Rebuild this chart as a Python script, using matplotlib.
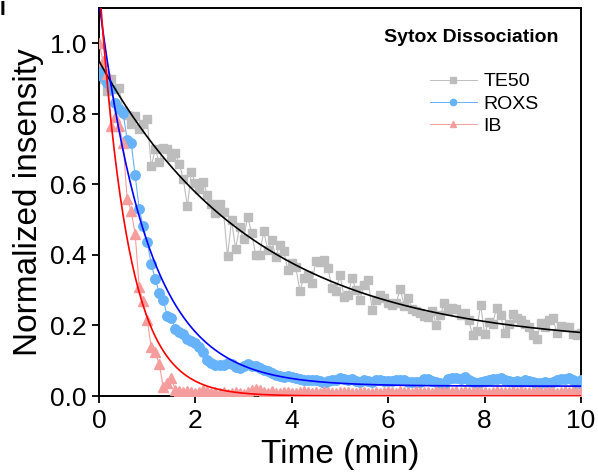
import numpy as np
import matplotlib
matplotlib.use("Agg")
import matplotlib.pyplot as plt
from matplotlib.lines import Line2D

plt.rcParams['font.family'] = ['Liberation Sans', 'DejaVu Sans']

# ---------------- data ----------------
n_points = 121
time_step = 1.0 / 12.0  # min (5 s sampling)

te50 = [0.93, 0.90, 0.865, 0.898, 0.87, 0.874, 0.808, 0.798, 0.772, 0.793,
        0.756, 0.77, 0.784, 0.651, 0.699, 0.663, 0.702, 0.699, 0.677, 0.689,
        0.658, 0.614, 0.538, 0.634, 0.604, 0.587, 0.606, 0.57, 0.545, 0.519,
        0.545, 0.522, 0.396, 0.498, 0.418, 0.478, 0.445, 0.508, 0.462, 0.40,
        0.40, 0.467, 0.415, 0.443, 0.394, 0.429, 0.41, 0.358, 0.377, 0.365,
        0.299, 0.334, 0.344, 0.32, 0.384, 0.38, 0.386, 0.363, 0.306, 0.299,
        0.344, 0.282, 0.287, 0.334, 0.301, 0.273, 0.315, 0.33, 0.244, 0.273,
        0.287, 0.278, 0.263, 0.259, 0.265, 0.303, 0.256, 0.278, 0.246, 0.24,
        0.235, 0.227, 0.223, 0.24, 0.202, 0.23, 0.263, 0.244, 0.249, 0.246,
        0.23, 0.235, 0.216, 0.173, 0.185, 0.259, 0.176, 0.211, 0.205, 0.249,
        0.23, 0.178, 0.205, 0.232, 0.22, 0.216, 0.205, 0.197, 0.173, 0.161,
        0.208, 0.197, 0.216, 0.22, 0.178, 0.199, 0.197, 0.195, 0.176, 0.173,
        0.178]

roxs = [0.926, 0.905, 0.888, 0.87, 0.832, 0.815, 0.803, 0.727, 0.718, 0.626,
        0.531, 0.481, 0.437, 0.374, 0.332, 0.293, 0.271, 0.227, 0.222, 0.19,
        0.181, 0.175, 0.162, 0.157, 0.15, 0.14, 0.126, 0.102, 0.093, 0.088,
        0.088, 0.089, 0.093, 0.09, 0.083, 0.079, 0.085, 0.09, 0.086, 0.085,
        0.079, 0.075, 0.07, 0.064, 0.06, 0.058, 0.055, 0.056, 0.055, 0.05,
        0.048, 0.045, 0.046, 0.045, 0.044, 0.042, 0.038, 0.042, 0.045, 0.045,
        0.05, 0.047, 0.044, 0.048, 0.042, 0.04, 0.045, 0.043, 0.041, 0.046,
        0.044, 0.042, 0.042, 0.043, 0.045, 0.046, 0.045, 0.041, 0.04, 0.039,
        0.041, 0.048, 0.047, 0.042, 0.04, 0.038, 0.022, 0.047, 0.05, 0.052,
        0.048, 0.053, 0.044, 0.04, 0.037, 0.041, 0.043, 0.045, 0.048, 0.047,
        0.05, 0.046, 0.042, 0.04, 0.043, 0.039, 0.045, 0.043, 0.04, 0.038,
        0.036, 0.04, 0.038, 0.041, 0.045, 0.047, 0.048, 0.05, 0.045, 0.033,
        0.045]

ib = [1.0, 0.95, 0.912, 0.765, 0.79, 0.765, 0.718, 0.559, 0.524, 0.46,
      0.309, 0.268, 0.215, 0.138, 0.124, 0.09, 0.026, 0.036, 0.05, 0.017,
      0.013, 0.011, 0.015, 0.01, 0.009, 0.012, 0.018, 0.013, 0.009, 0.011,
      0.008, 0.01, 0.007, 0.009, 0.011, 0.008, 0.007, 0.01, 0.018, 0.02,
      0.016, 0.011, 0.009, 0.013, 0.009, 0.008, 0.011, 0.01, 0.008, 0.009,
      0.012, 0.014, 0.01, 0.008, 0.011, 0.009, 0.013, 0.01, 0.008, 0.009,
      0.011, 0.01, 0.012, 0.009, 0.008, 0.01, 0.011, 0.009, 0.008, 0.01,
      0.009, 0.011, 0.013, 0.01, 0.009, 0.014, 0.012, 0.011, 0.009, 0.013,
      0.011, 0.01, 0.012, 0.009, 0.013, 0.011, 0.014, 0.012, 0.01, 0.013,
      0.011, 0.015, 0.012, 0.01, 0.013, 0.011, 0.012, 0.009, 0.011, 0.013,
      0.011, 0.01, 0.012, 0.014, 0.011, 0.013, 0.01, 0.012, 0.011, 0.014,
      0.012, 0.01, 0.013, 0.011, 0.009, 0.012, 0.014, 0.011, 0.013, 0.01,
      0.012]

# exponential fit parameters: amplitude, time constant (min), offset
fit_te50 = [0.806, 3.23, 0.1436]
fit_roxs = [1.09, 1.02, 0.028]
fit_ib = [1.18, 0.60, 0.0]

series_labels = ["TE50", "ROXS", "IB"]
x_ticks = [0, 2, 4, 6, 8, 10]
y_ticks = [0.0, 0.2, 0.4, 0.6, 0.8, 1.0]

# ---------------- plot ----------------
t = np.arange(n_points) * time_step
t_fit = np.linspace(0, 10, 500)

def expfit(tt, p):
    return p[0] * np.exp(-tt / p[1]) + p[2]

fig = plt.figure(figsize=(5.98, 4.74), dpi=100)
ax = fig.add_axes([99/598, 1-396/474, (581-99)/598, (396-8)/474])

c_gray = '#bdbdbd'
c_blue = '#66b2fb'
c_pink = '#f59d9d'

ax.plot(t, te50, '-', color=c_gray, lw=0.8, marker='s', ms=6.3,
        mfc=c_gray, mec=c_gray, zorder=2)
ax.plot(t, roxs, '-', color=c_blue, lw=0.8, marker='o', ms=6.8,
        mfc=c_blue, mec=c_blue, zorder=3)
ax.plot(t, ib, '-', color=c_pink, lw=0.8, marker='^', ms=7.2,
        mfc=c_pink, mec=c_pink, zorder=4)

ax.plot(t_fit, expfit(t_fit, fit_te50), color='black', lw=1.2, zorder=5)
ax.plot(t_fit, expfit(t_fit, fit_roxs), color='#0000ff', lw=1.2, zorder=5)
ax.plot(t_fit, expfit(t_fit, fit_ib), color='#ff0000', lw=1.2, zorder=5)

ax.set_xlim(0, 10)
ax.set_ylim(0, 1.1)
ax.set_xticks(x_ticks)
ax.set_xticklabels([str(v) for v in x_ticks])
ax.set_yticks(y_ticks)
ax.set_yticklabels([f"{v:.1f}" for v in y_ticks])
ax.tick_params(direction='out', length=5, width=1.3, labelsize=19,
               top=False, right=False, pad=4)
for s in ax.spines.values():
    s.set_linewidth(1.4)

ax.set_xlabel("Time (min)", fontsize=24, labelpad=5)
ax.set_ylabel("Normalized insensity", fontsize=24, labelpad=4)

handles = [
    Line2D([], [], color=c_gray, lw=0.7, marker='s', ms=4, mfc=c_gray, mec=c_gray),
    Line2D([], [], color=c_blue, lw=0.7, marker='o', ms=4.5, mfc=c_blue, mec=c_blue),
    Line2D([], [], color=c_pink, lw=0.7, marker='^', ms=4.5, mfc=c_pink, mec=c_pink),
]
ax.legend(handles, series_labels, loc='center left',
          bbox_to_anchor=((430-99)/482, (396-104)/388), frameon=False,
          fontsize=14, handlelength=2.4, handletextpad=0.35,
          labelspacing=0.25, borderpad=0, borderaxespad=0)

ax.text((471-99)/482, (396-37)/388, "Sytox Dissociation", transform=ax.transAxes,
        ha='center', va='center', fontsize=14, fontweight='bold')

fig.text(0.0, 1.0, "I", fontsize=15, fontweight='bold', ha='left', va='top')

fig.savefig("out.png", dpi=100)
